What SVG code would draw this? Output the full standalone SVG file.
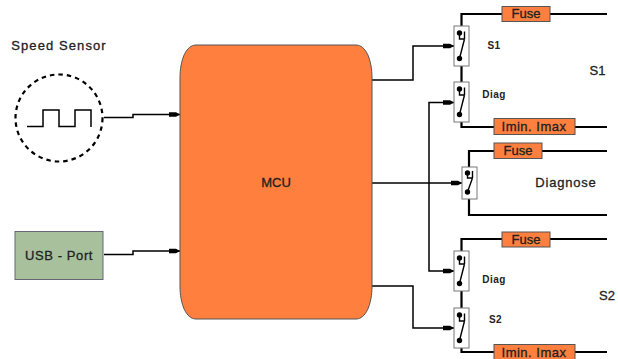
<svg xmlns="http://www.w3.org/2000/svg" width="618" height="359" viewBox="0 0 618 359">
<style>
text{font-family:"Liberation Sans",Arial,sans-serif;fill:#222;text-anchor:middle}
.t{font-size:13px;stroke:#222;stroke-width:.3}
.s{font-size:10px;font-weight:bold;letter-spacing:.5px}
.r{fill:#ff7f3f;stroke:#555;stroke-width:1}
.box{fill:#fff;stroke:#777;stroke-width:1}
.thin{fill:none;stroke:#000;stroke-width:1.5}
.thick{fill:none;stroke:#000;stroke-width:2.2}
.sw{fill:none;stroke:#000;stroke-width:1.4}
</style>
<defs>
<marker id="a" markerUnits="userSpaceOnUse" markerWidth="11" markerHeight="7" refX="11" refY="3.5" orient="auto"><path d="M0 1.2L7 1.2L11 3.5L7 5.8L0 5.8Z" fill="#000"/></marker>
<g id="switch">
<rect class="box" x="0" y="0" width="15" height="40"/>
<circle cx="5.500" cy="7" r="2.700" fill="#000"/>
<circle cx="5.500" cy="32.500" r="2.700" fill="#000"/>
<path class="sw" d="M5.500 7V13H10.500M10.500 5.500V13M5.500 32.500L10.500 13"/>
</g>
</defs>
<g id="connectors">
<path class="thin" d="M104 117.500H133V114.500H180" marker-end="url(#a)"/>
<path class="thin" d="M104 254.500H133V251H180" marker-end="url(#a)"/>
<path class="thin" d="M372 80H413V46H454" marker-end="url(#a)"/>
<path class="thin" d="M429 183V102.500H454" marker-end="url(#a)"/>
<path class="thin" d="M372 183H462" marker-end="url(#a)"/>
<path class="thin" d="M429 183V271H454" marker-end="url(#a)"/>
<path class="thin" d="M372 286H413V328H454" marker-end="url(#a)"/>
<path class="thick" d="M607 14H461.500V26M461.500 66V82M461.500 122V127H607"/>
<path class="thick" d="M607 151H469V167M469 199V215H607"/>
<path class="thick" d="M607 239H461.500V251M461.500 291V308M461.500 348V352H607"/>
</g>
<g id="speed-sensor">
<circle cx="59" cy="118" r="43.500" fill="none" stroke="#000" stroke-width="2.200" stroke-dasharray="4.500 4"/>
<path class="thin" d="M27 126.500H43V110H59V126.500H75V110H91V127"/>
<text class="t" x="59" y="50" letter-spacing="1.100">Speed Sensor</text>
</g>
<g id="usb-port">
<rect x="15" y="231.500" width="88" height="48" fill="#a8c19c" stroke="#667" stroke-width="1"/>
<text class="t" x="59" y="260" letter-spacing=".6">USB - Port</text>
</g>
<g id="mcu">
<path class="r" d="M196 45H356C366 45 372 60 372 78V286C372 304 366 319 356 319H196C186 319 180 304 180 286V78C180 60 186 45 196 45Z"/>
<text class="t" x="276" y="187">MCU</text>
</g>
<g id="switch-s1"><use href="#switch" x="454" y="26"/><text class="s" x="494" y="49">S1</text></g>
<g id="switch-diag1"><use href="#switch" x="454" y="82"/><text class="s" x="494" y="98">Diag</text></g>
<g id="switch-diagnose">
<rect class="box" x="462" y="167" width="15" height="32"/>
<circle cx="467.500" cy="173" r="2.700" fill="#000"/>
<circle cx="467.500" cy="192" r="2.700" fill="#000"/>
<path class="sw" d="M467.500 173V178H472.500M472.500 171V178M467.500 192L472.500 178"/>
<text class="t" x="566" y="187" letter-spacing=".8">Diagnose</text>
</g>
<g id="switch-diag2"><use href="#switch" x="454" y="251"/><text class="s" x="494" y="283">Diag</text></g>
<g id="switch-s2"><use href="#switch" x="454" y="308"/><text class="s" x="495.500" y="323" letter-spacing="1">S2</text></g>
<g id="fuse1"><rect class="r" x="502" y="6.500" width="48" height="15"/><text class="t" x="526" y="18">Fuse</text></g>
<g id="imax1"><rect class="r" x="494" y="118.500" width="81" height="16"/><text class="t" x="534" y="131" letter-spacing=".5">Imin. Imax</text></g>
<g id="fuse2"><rect class="r" x="494" y="143" width="48" height="15.500"/><text class="t" x="518" y="155">Fuse</text></g>
<g id="fuse3"><rect class="r" x="502" y="232" width="48" height="15"/><text class="t" x="526" y="244">Fuse</text></g>
<g id="imax2"><rect class="r" x="494" y="344.500" width="81" height="16"/><text class="t" x="534" y="357" letter-spacing=".5">Imin. Imax</text></g>
<text class="t" x="597.500" y="75">S1</text>
<text class="t" x="607" y="300">S2</text>
</svg>
